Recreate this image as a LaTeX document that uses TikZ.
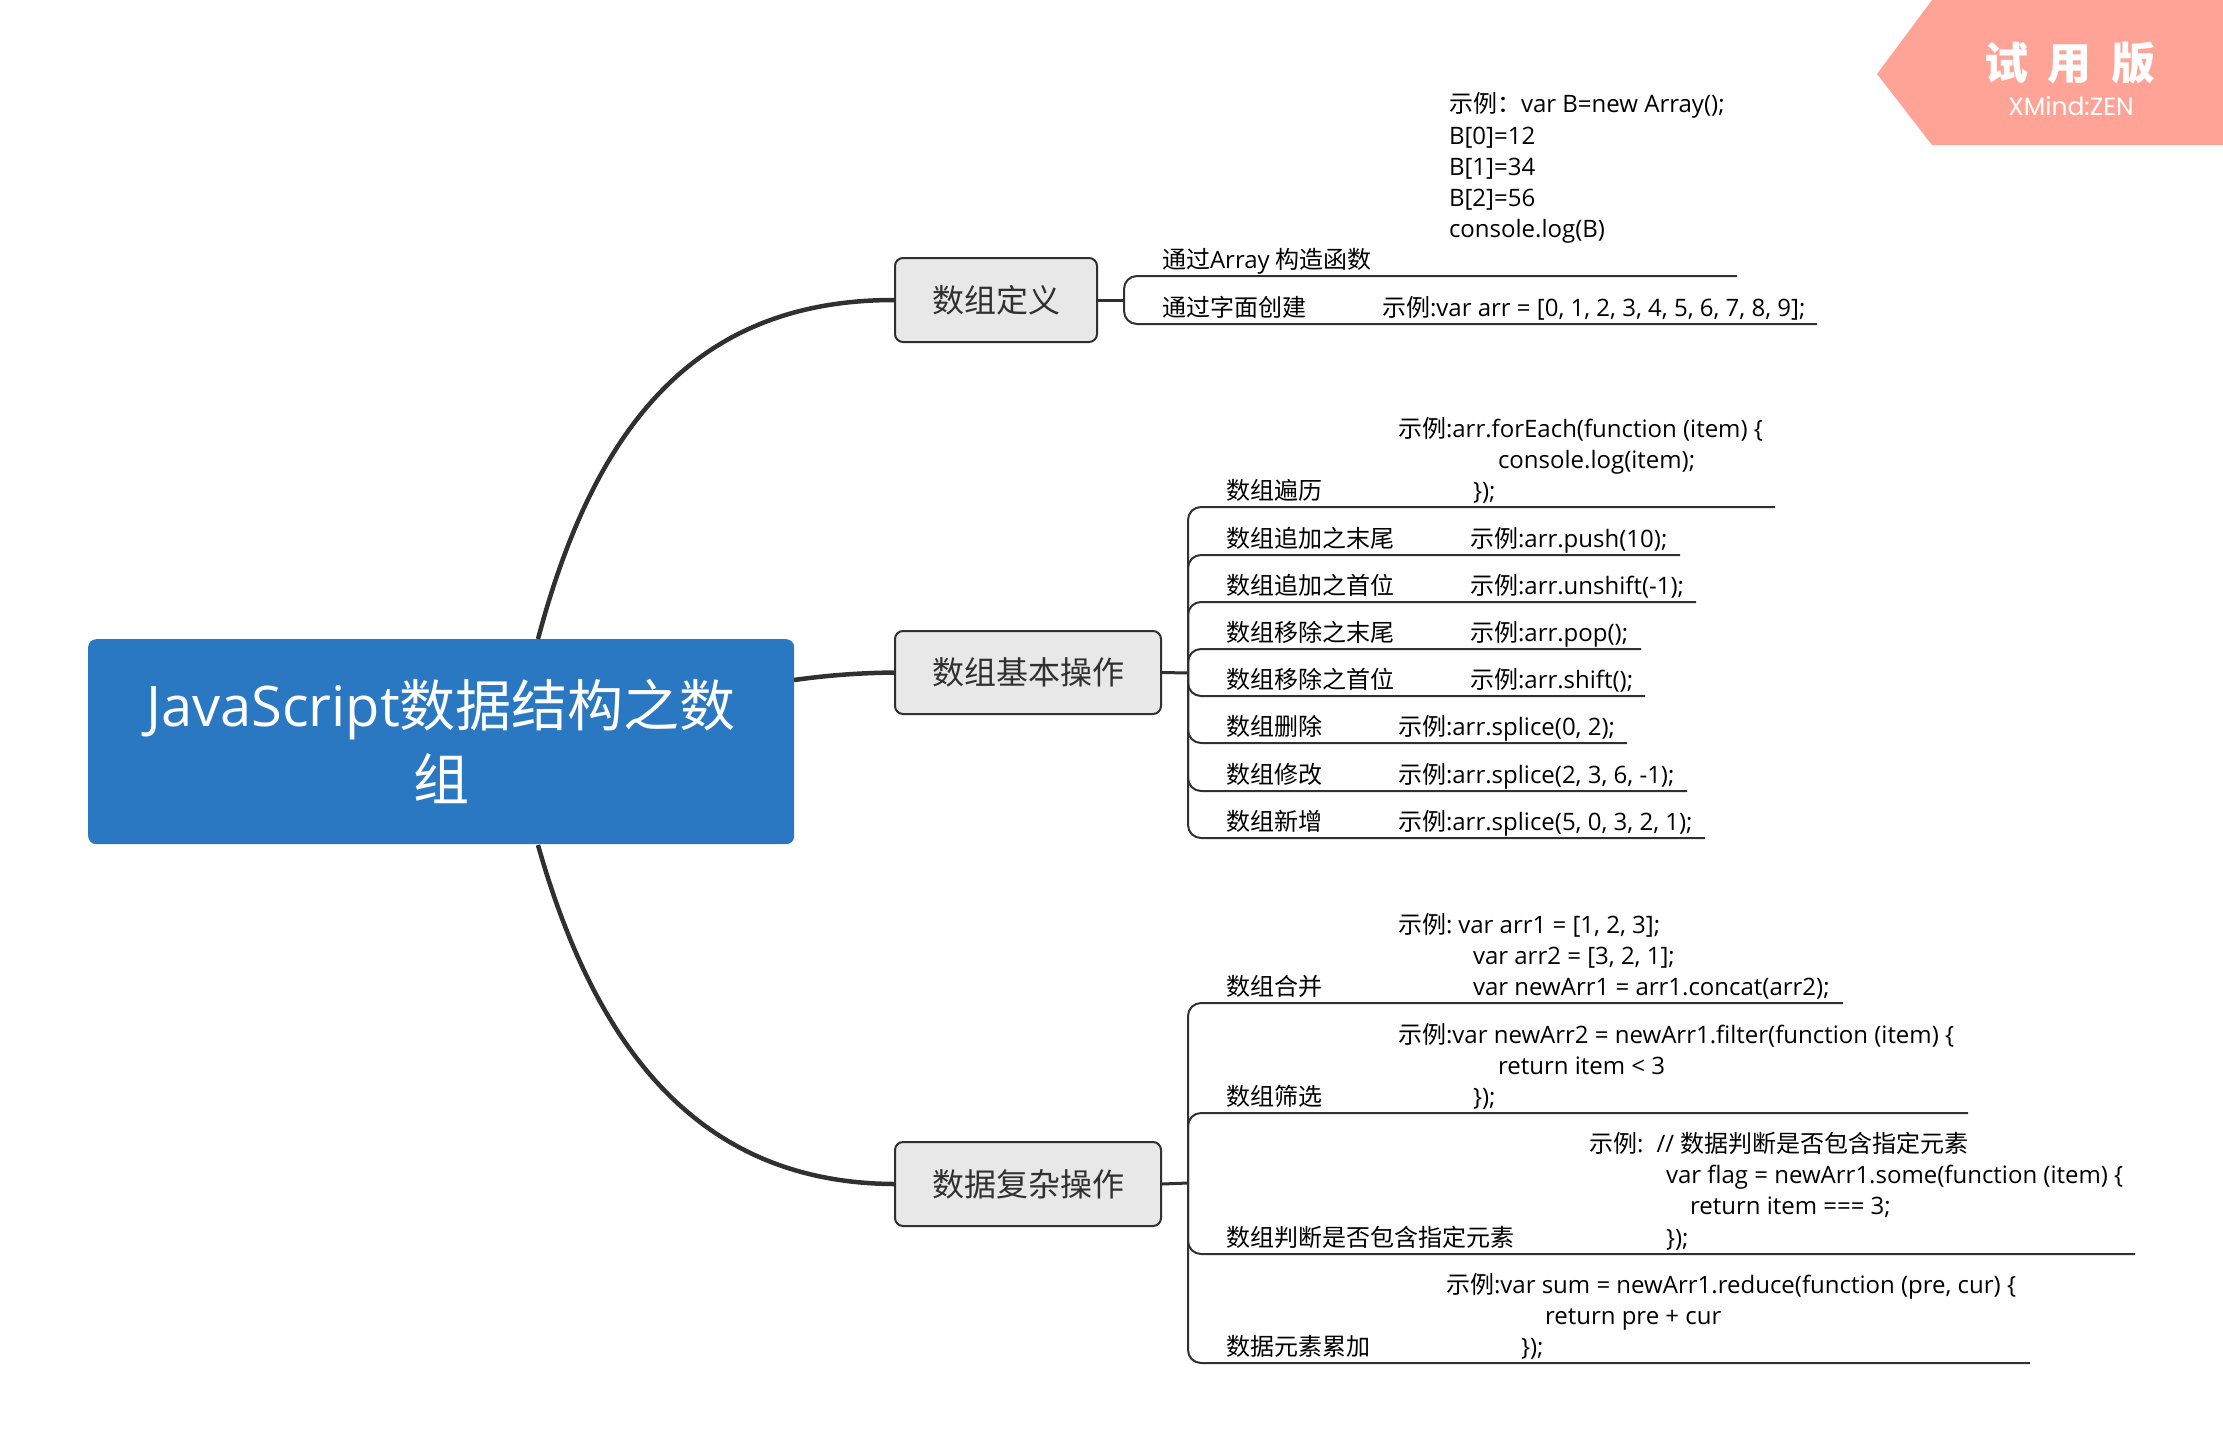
\documentclass[tikz,border=0pt]{standalone}
\usepackage{fontspec}
\setmainfont{Open Sans}
\newfontfamily\cjkf{Noto Sans CJK SC}
\newfontfamily\wmf{Poppins}
\newcommand{\zh}[1]{{\cjkf #1}}
\newcommand{\tx}[4]{\node[txt] (#1) at (#2,#3-1) {#4};}
\newcommand{\leafline}[4]{\coordinate (#1e) at (#3,#2); \draw[leaf] (#4) |- (#1e);}
\definecolor{rootblue}{HTML}{2A78C2}
\definecolor{ink}{HTML}{303030}
\definecolor{boxgray}{HTML}{E8E8E8}
\definecolor{wmark}{HTML}{FFA397}
\tikzset{
 txt/.style={anchor=base west,inner sep=0pt,outer sep=0pt,text=black,font=\fontsize{24}{28}\selectfont},
 topic/.style={draw=ink,fill=boxgray,line width=2pt,rounded corners=8pt,anchor=north west,inner sep=0pt,text=ink,font=\fontsize{32}{40}\selectfont,align=center},
 branch/.style={draw=ink,line width=4.5pt},
 stem/.style={draw=ink,line width=3pt},
 leaf/.style={draw=ink,line width=2pt,rounded corners=13pt},
}
\begin{document}
\begin{tikzpicture}[x=1pt,y=-1pt]
\useasboundingbox (0,0) rectangle (2223,1453);
% watermark
\fill[wmark] (1932,0) -- (2223,0) -- (2223,145) -- (1932,145) -- (1877,74) -- cycle;
\node[text=white,inner sep=0pt,font=\fontsize{44}{50}\selectfont\cjkf\bfseries] (wm1) at (2070,63) {试\hspace{0.45em}用\hspace{0.45em}版};
\node[text=white,inner sep=0pt,font=\fontsize{25}{30}\selectfont\wmf] (wm2) at (2071,106) {XMind:ZEN};
% root
\node[fill=rootblue,rounded corners=8pt,minimum width=706pt,minimum height=205pt,inner sep=0pt,anchor=north west] (root) at (88,639) {};
\node[text=white,inner sep=0pt,anchor=base,font=\fontsize{56}{64}\selectfont] (r1) at (441,726) {JavaScript\zh{数据结构之数}};
\node[text=white,inner sep=0pt,anchor=base,font=\fontsize{56}{64}\selectfont] (r2) at (441,800) {\zh{组}};
% topics
\node[topic,minimum width=202pt,minimum height=84pt] (t1) at (894,257) {\zh{数组定义}};
\node[topic,minimum width=266pt,minimum height=83pt] (t2) at (894,630) {\zh{数组基本操作}};
\node[topic,minimum width=266pt,minimum height=84pt] (t3) at (894,1141) {\zh{数据复杂操作}};
% branches
\coordinate (ra) at (538,639);
\coordinate (rb) at (794,680);
\coordinate (rc) at (538,845);
\draw[branch] (ra) .. controls (596,420) and (700,300) .. (t1.west);
\draw[branch] (rb) .. controls (830,675) and (860,673) .. (t2.west);
\draw[branch] (rc) .. controls (596,1050) and (700,1183) .. (t3.west);
% hubs
\coordinate (h1) at (1124,300);
\coordinate (h2) at (1188,673);
\coordinate (h3) at (1188,1183);
\draw[stem] (t1.east) -- (h1);
\draw[stem] (t2.east) -- (h2);
\draw[stem] (t3.east) -- (h3);
% leaf lines
\leafline{a1}{276}{1737}{h1}
\leafline{a2}{324}{1817}{h1}
\leafline{b1}{507}{1775}{h2}
\leafline{b2}{555}{1680}{h2}
\leafline{b3}{602}{1696}{h2}
\leafline{b4}{649}{1641}{h2}
\leafline{b5}{696}{1645}{h2}
\leafline{b6}{743}{1627}{h2}
\leafline{b7}{791}{1687}{h2}
\leafline{b8}{838}{1705}{h2}
\leafline{c1}{1003}{1843}{h3}
\leafline{c2}{1113}{1968}{h3}
\leafline{c3}{1254}{2135}{h3}
\leafline{c4}{1363}{2030}{h3}
% group 1
\tx{a11}{1449}{114}{\zh{示例：}var B=new Array();}
\tx{a12}{1449}{145}{B[0]=12}
\tx{a13}{1449}{176}{B[1]=34}
\tx{a14}{1449}{207}{B[2]=56}
\tx{a15}{1449}{238}{console.log(B)}
\tx{a1l}{1162}{269}{\zh{通过}Array \zh{构造函数}}
\tx{a2l}{1162}{317}{\zh{通过字面创建}}
\tx{a2x}{1382}{317}{\zh{示例}:var arr = [0, 1, 2, 3, 4, 5, 6, 7, 8, 9];}
% group 2
\tx{b11}{1398}{438}{\zh{示例}:arr.forEach(function (item) \{}
\tx{b12}{1498}{469}{console.log(item);}
\tx{b13}{1473}{500}{\});}
\tx{b1l}{1226}{500}{\zh{数组遍历}}
\tx{b2l}{1226}{548}{\zh{数组追加之末尾}}
\tx{b2x}{1470}{548}{\zh{示例}:arr.push(10);}
\tx{b3l}{1226}{595}{\zh{数组追加之首位}}
\tx{b3x}{1470}{595}{\zh{示例}:arr.unshift(-1);}
\tx{b4l}{1226}{642}{\zh{数组移除之末尾}}
\tx{b4x}{1470}{642}{\zh{示例}:arr.pop();}
\tx{b5l}{1226}{689}{\zh{数组移除之首位}}
\tx{b5x}{1470}{689}{\zh{示例}:arr.shift();}
\tx{b6l}{1226}{736}{\zh{数组删除}}
\tx{b6x}{1398}{736}{\zh{示例}:arr.splice(0, 2);}
\tx{b7l}{1226}{784}{\zh{数组修改}}
\tx{b7x}{1398}{784}{\zh{示例}:arr.splice(2, 3, 6, -1);}
\tx{b8l}{1226}{831}{\zh{数组新增}}
\tx{b8x}{1398}{831}{\zh{示例}:arr.splice(5, 0, 3, 2, 1);}
% group 3
\tx{c11}{1398}{934}{\zh{示例}:\hspace{-0.1em} var arr1 = [1, 2, 3];}
\tx{c12}{1473}{965}{var arr2 = [3, 2, 1];}
\tx{c13}{1473}{996}{var newArr1 = arr1.concat(arr2);}
\tx{c1l}{1226}{996}{\zh{数组合并}}
\tx{c21}{1398}{1044}{\zh{示例}:var newArr2 = newArr1.filter(function (item) \{}
\tx{c22}{1498}{1075}{return item < 3}
\tx{c23}{1473}{1106}{\});}
\tx{c2l}{1226}{1106}{\zh{数组筛选}}
\tx{c31}{1589}{1153}{\zh{示例}:\hspace{0.55em}// \zh{数据判断是否包含指定元素}}
\tx{c32}{1666}{1184}{var flag = newArr1.some(function (item) \{}
\tx{c33}{1690}{1215}{return item === 3;}
\tx{c34}{1666}{1247}{\});}
\tx{c3l}{1226}{1247}{\zh{数组判断是否包含指定元素}}
\tx{c41}{1446}{1294}{\zh{示例}:var sum = newArr1.reduce(function (pre, cur) \{}
\tx{c42}{1545}{1325}{return pre + cur}
\tx{c43}{1521}{1356}{\});}
\tx{c4l}{1226}{1356}{\zh{数据元素累加}}
\end{tikzpicture}
\end{document}
